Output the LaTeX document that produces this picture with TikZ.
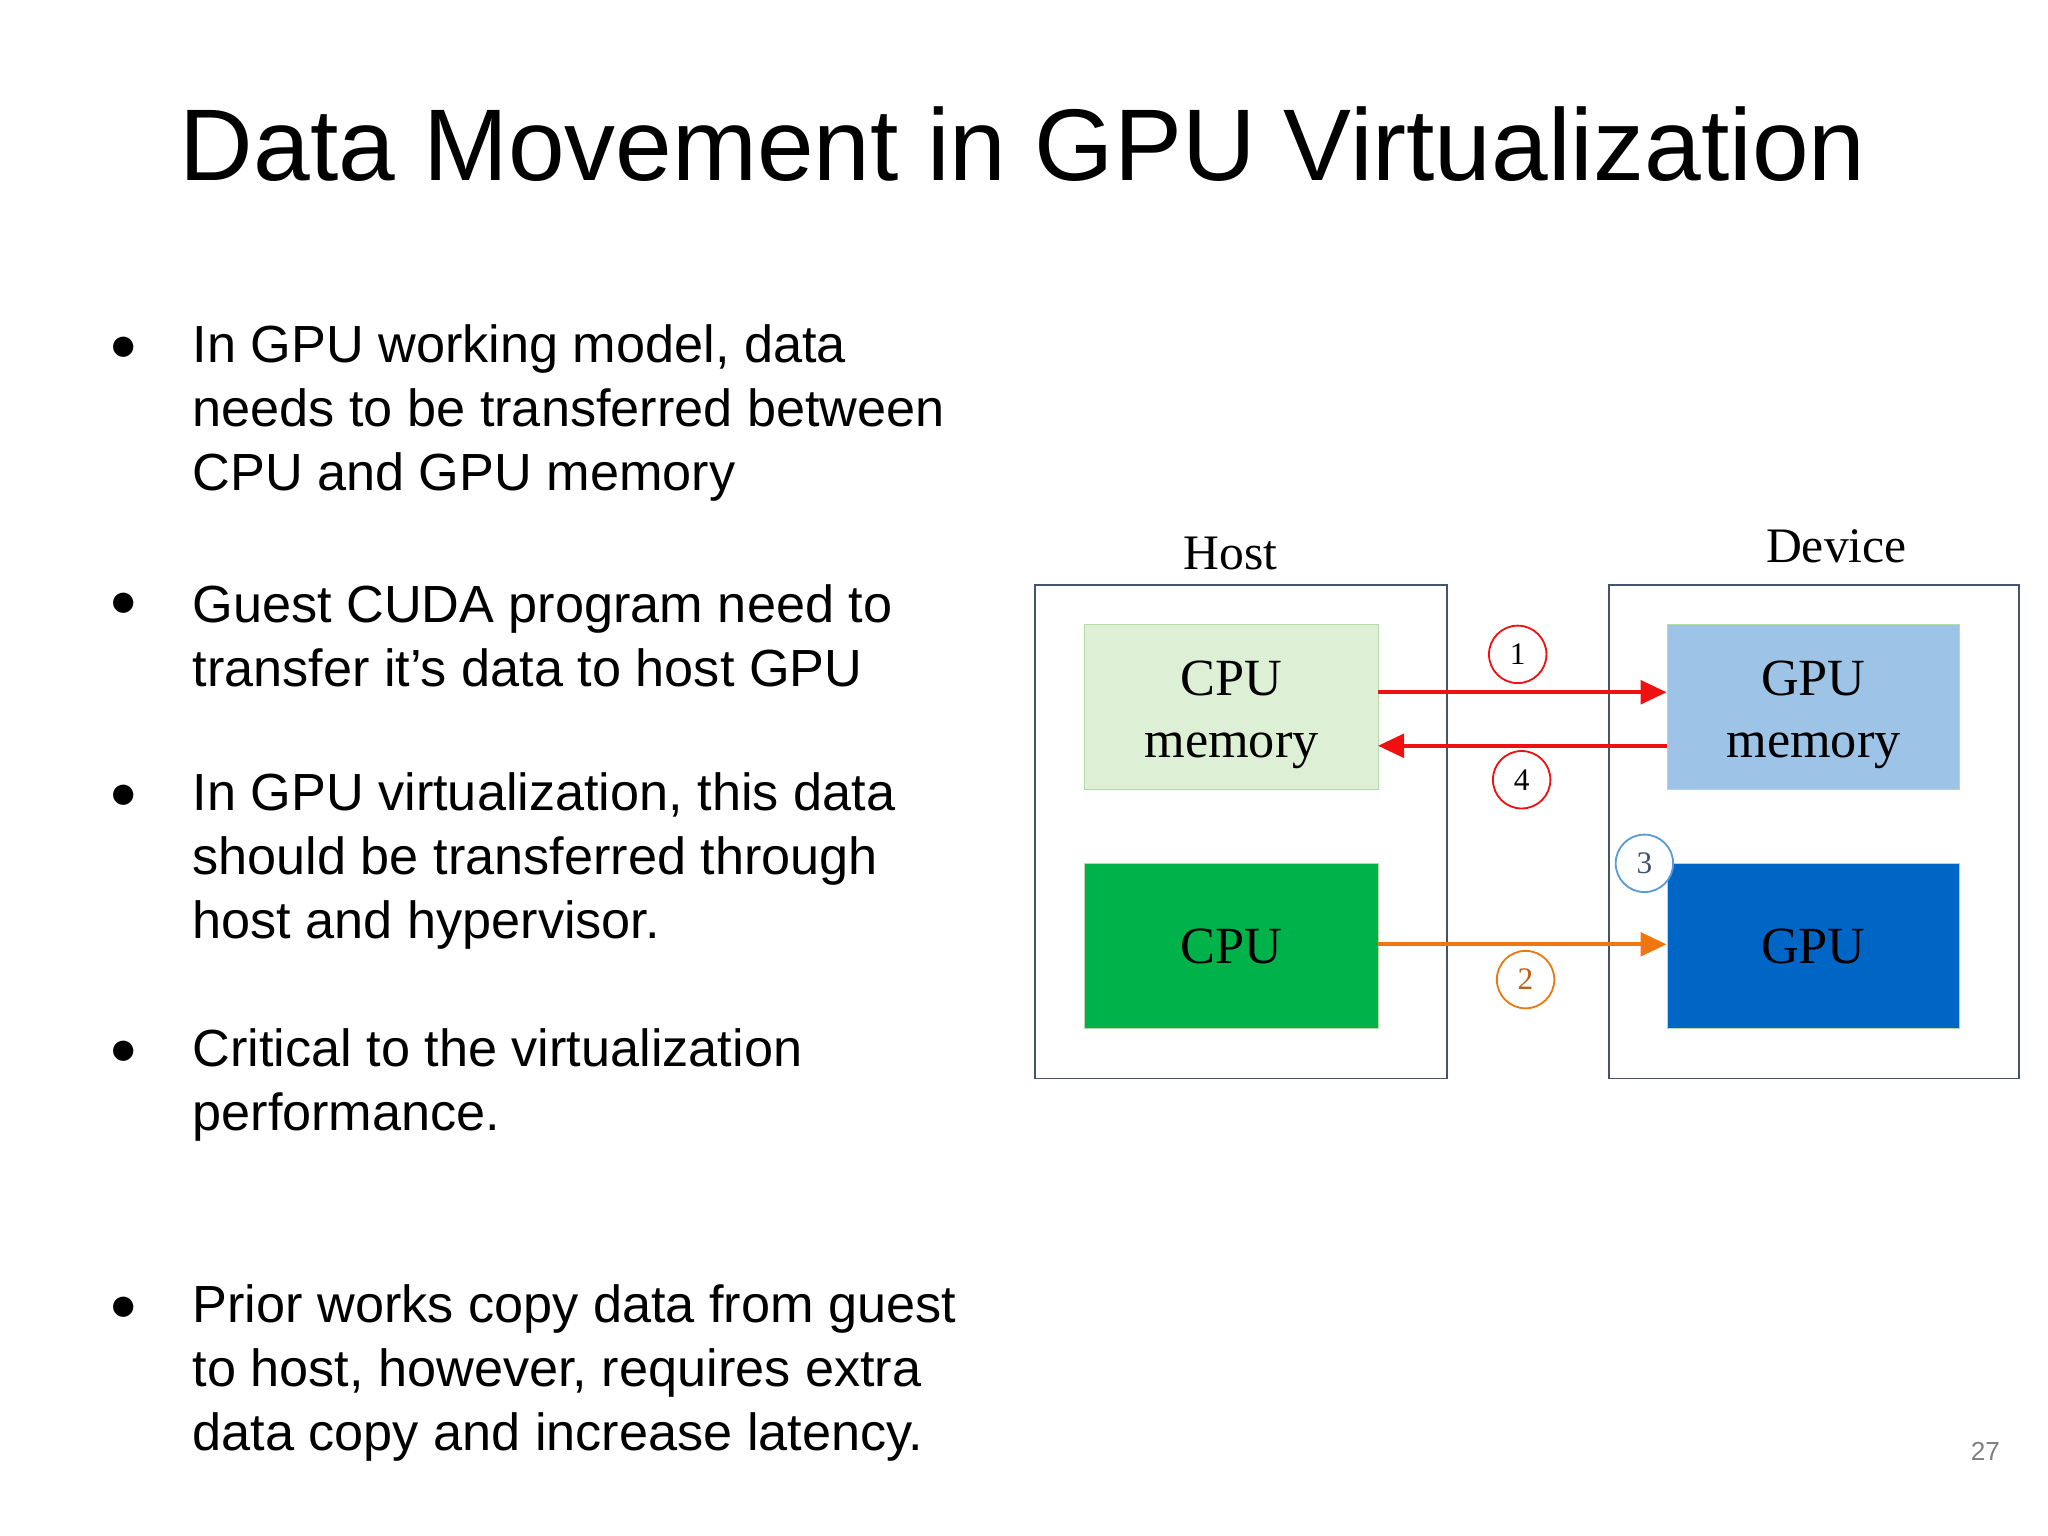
\documentclass[tikz,border=0pt]{standalone}
\usepackage{fontspec}
\setmainfont{Liberation Sans}
\newfontfamily\serif{Liberation Serif}
\usetikzlibrary{arrows.meta}
\definecolor{frame}{HTML}{44546A}
\definecolor{cmem}{HTML}{DDF0D6}
\definecolor{cmemb}{HTML}{B5DBA8}
\definecolor{cpu}{HTML}{00B24A}
\definecolor{gmem}{HTML}{9DC3E6}
\definecolor{gpu}{HTML}{0066C6}
\definecolor{arrred}{HTML}{EE1111}
\definecolor{arrorange}{HTML}{EE7711}
\definecolor{cblue}{HTML}{5B9BD5}
\begin{document}
\begin{tikzpicture}[x=0.5pt,y=-0.5pt,
  bul/.style={anchor=west,font=\fontsize{20pt}{24.5pt}\selectfont,align=left,inner sep=0},
  outer/.style={draw=frame,line width=0.7pt},
  blk/.style={font=\serif\fontsize{20pt}{24pt}\selectfont,align=center},
  lbl/.style={font=\serif\fontsize{19pt}{22pt}\selectfont},
  num/.style={circle,draw,line width=0.7pt,minimum size=22pt,inner sep=0,font=\serif\fontsize{12pt}{13pt}\selectfont},
  arr/.style={line width=1.6pt,-{Triangle[length=10pt,width=9pt]}}]
\useasboundingbox (0,0) rectangle (1568,1176);
\node[font=\fontsize{39pt}{44pt}\selectfont] (title) at (783,110) {Data Movement in GPU Virtualization};
\foreach \y/\t [count=\i] in {
 316/{In GPU working model, data\\needs to be transferred between\\CPU and GPU memory},
 487/{Guest CUDA program need to\\transfer it’s data to host GPU},
 659/{In GPU virtualization, this data\\should be transferred through\\host and hypervisor.},
 831/{Critical to the virtualization\\performance.},
 1051/{Prior works copy data from guest\\to host, however, requires extra\\data copy and increase latency.}}{
  \node[bul] (b\i) at (147,\y) {\t};
}
\foreach \y [count=\i] in {267,463,610,806,1002}{
  \node[font=\fontsize{18pt}{24pt}\selectfont] (dot\i) at (95,\y) {●};
}
\node[outer,minimum width=157.5pt,minimum height=189pt,anchor=north west] (host) at (792,447) {};
\node[outer,minimum width=157pt,minimum height=189pt,anchor=north west] (dev) at (1231,447) {};
\node[lbl] (hl) at (942,424) {Host};
\node[lbl] (dl) at (1406,418) {Device};
\node[blk,fill=cmem,draw=cmemb,minimum width=112.5pt,minimum height=63pt,anchor=north west] (cm) at (830,478) {};
\node[blk] (cmt) at ([yshift=-3pt]cm.center) {CPU\\memory};
\node[blk,fill=cpu,draw=cmemb,minimum width=112.5pt,minimum height=63pt,anchor=north west] (cpu) at (830,661) {CPU};
\node[blk,fill=gmem,draw=cmemb,minimum width=112pt,minimum height=63pt,anchor=north west] (gm) at (1276,478) {};
\node[blk] (gmt) at ([yshift=-3pt]gm.center) {GPU\\memory};
\node[blk,fill=gpu,draw=cmemb,minimum width=112pt,minimum height=63pt,anchor=north west] (gpu) at (1276,661) {GPU};
\coordinate (a1s) at (1055,530); \coordinate (a1e) at (1276,530);
\coordinate (a4s) at (1276,571); \coordinate (a4e) at (1055,571);
\coordinate (a2s) at (1055,723); \coordinate (a2e) at (1276,723);
\draw[arr,arrred] (a1s) -- (a1e);
\draw[arr,arrred] (a4s) -- (a4e);
\draw[arr,arrorange] (a2s) -- (a2e);
\node[num,draw=arrred] (n1) at (1162,501) {1};
\node[num,draw=arrred] (n4) at (1165,597) {4};
\node[num,draw=arrorange,text=arrorange!80!black] (n2) at (1168,750) {2};
\node[num,draw=cblue,fill=white,text=frame] (n3) at (1259,661) {3};
\node[text=gray,font=\fontsize{10pt}{12pt}\selectfont] (pg) at (1520,1111) {27};
\end{tikzpicture}
\end{document}
